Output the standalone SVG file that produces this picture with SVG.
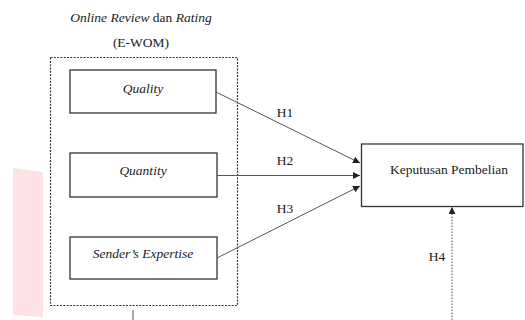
<svg xmlns="http://www.w3.org/2000/svg" width="525" height="320" viewBox="0 0 525 320">
  <style>
    .t { font-family: "Liberation Serif", "Times New Roman", serif; font-size: 13.5px; fill: #1a1a1a; }
    .i { font-style: italic; }
    .box { fill: #fff; stroke: #333; stroke-width: 1.3; }
    .link { stroke: #555; stroke-width: 1; fill: none; }
  </style>
  <defs>
    <marker id="arrow" viewBox="0 0 10 10" refX="10" refY="5" markerWidth="7" markerHeight="7" markerUnits="userSpaceOnUse" orient="auto">
      <path d="M0,0 L10,5 L0,10 z" fill="#222"/>
    </marker>
  </defs>
  <rect width="525" height="320" fill="#fff"/>

  <!-- side band -->
  <polygon points="13,168 43,172 43,317 13,315" fill="#fde2e5"/>

  <!-- group heading -->
  <text class="t" x="141" y="22" text-anchor="middle"><tspan class="i">Online Review</tspan> dan <tspan class="i">Rating</tspan></text>
  <text class="t" x="141" y="47" text-anchor="middle">(E-WOM)</text>

  <!-- E-WOM group frame -->
  <g id="ewom">
    <rect x="50.5" y="57.5" width="187" height="248" fill="none" stroke="#333" stroke-width="1.2" stroke-dasharray="2,1.3"/>
    <line x1="133" y1="310" x2="133" y2="320" stroke="#555" stroke-width="1"/>
  </g>

  <g id="quality">
    <rect class="box" x="70" y="70" width="146" height="43"/>
    <text class="t i" x="143" y="93" text-anchor="middle">Quality</text>
  </g>
  <g id="quantity">
    <rect class="box" x="70" y="153" width="147" height="44"/>
    <text class="t i" x="143" y="175" text-anchor="middle">Quantity</text>
  </g>
  <g id="expertise">
    <rect class="box" x="70" y="237" width="147" height="42"/>
    <text class="t i" x="143" y="258" text-anchor="middle">Sender’s Expertise</text>
  </g>

  <g id="keputusan">
    <rect class="box" x="361.5" y="144" width="161.5" height="62.5"/>
    <text class="t" x="449" y="174" text-anchor="middle">Keputusan Pembelian</text>
  </g>

  <!-- connectors -->
  <g id="connectors">
    <line class="link" x1="216" y1="92" x2="360" y2="163" marker-end="url(#arrow)"/>
    <line class="link" x1="217" y1="175.5" x2="360" y2="175.5" marker-end="url(#arrow)"/>
    <line class="link" x1="217" y1="258" x2="360" y2="186" marker-end="url(#arrow)"/>
    <line class="link" x1="452" y1="320" x2="452" y2="207" stroke-dasharray="1.5,1.5" marker-end="url(#arrow)"/>
    <text class="t" x="285" y="117" text-anchor="middle">H1</text>
    <text class="t" x="285" y="165" text-anchor="middle">H2</text>
    <text class="t" x="285" y="213" text-anchor="middle">H3</text>
    <text class="t" x="437" y="261" text-anchor="middle">H4</text>
  </g>
</svg>
